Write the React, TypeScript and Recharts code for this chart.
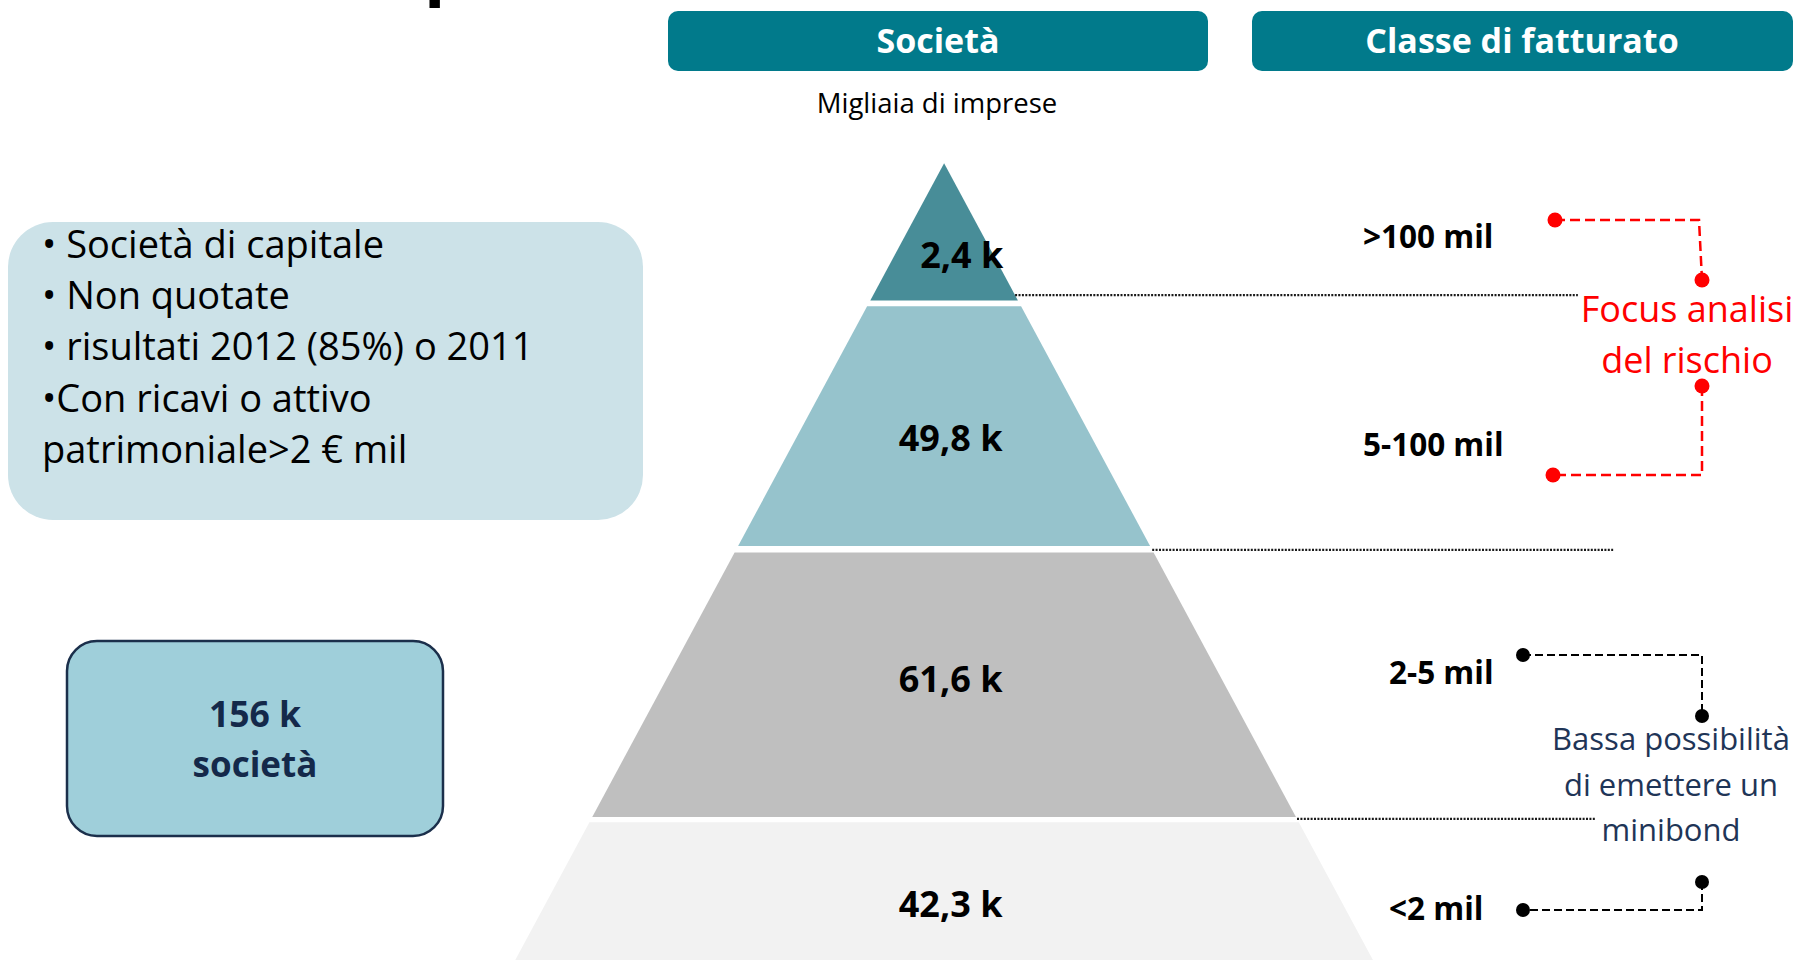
import React from 'react';
import { ComposedChart, Area, Scatter, XAxis, YAxis, ReferenceLine, LabelList } from 'recharts';

// classi di fatturato, dall'alto verso il basso
const classes = ['>100 mil', '5-100 mil', '2-5 mil', '<2 mil'];
// migliaia di imprese per classe
const companies = [2.4, 49.8, 61.6, 42.3];
// livelli della piramide (profondità dal vertice)
const layerTop = [0, 21.9, 59.6, 100.9];
const layerBottom = [21, 58.6, 100.1, 126];
const guideDepth = [20.2, 59.2, 100.4];
const guideEnd = [97, 102.4, 99.8];
const layerColors = ['#488d98', '#96c3cc', '#bfbfbf', '#f2f2f2'];

const SLOPE = 0.538;
const LABEL_AT = [0.67, 0.55, 0.48, 0.5];
const FONT = "'Open Sans', 'Noto Sans', sans-serif";

const fmt = (v: number) => v.toFixed(1).replace('.', ',') + ' k';
const total = Math.round(companies.reduce((a, b) => a + b, 0));

const trapezoid = (top: number, bottom: number) => [
  { x: -SLOPE * bottom, band: [bottom, bottom] },
  { x: -SLOPE * top, band: [bottom, top] },
  { x: SLOPE * top, band: [bottom, top] },
  { x: SLOPE * bottom, band: [bottom, bottom] },
];

const labelData = companies.map((v, i) => ({
  x: i === 0 ? 2.7 : 1,
  y: layerTop[i] + (layerBottom[i] - layerTop[i]) * LABEL_AT[i],
  label: fmt(v),
}));

const noShape = () => <g />;

const renderValue = (props: any) => {
  const { x, y, width, height, value, viewBox } = props;
  const vb = viewBox && viewBox.width !== undefined ? viewBox : { x, y, width, height };
  const cx = vb.x + (vb.width || 0) / 2;
  const cy = vb.y + (vb.height || 0) / 2;
  return (
    <text x={cx} y={cy} dy="0.36em" textAnchor="middle" fill="#000" fontSize={36} fontWeight={700} fontFamily={FONT}>
      {value}
    </text>
  );
};

const classLabelPos = [
  { x: 1363, y: 248 },
  { x: 1363, y: 456 },
  { x: 1389, y: 684 },
  { x: 1389, y: 920 },
];

const bullets = [
  '• Società di capitale',
  '• Non quotate',
  '• risultati 2012 (85%) o 2011',
  '•Con ricavi o attivo',
  'patrimoniale>2 € mil',
];

export default function App() {
  return (
    <div style={{ position: 'absolute', left: 0, top: 0, width: 1800, height: 960, background: '#fff', fontFamily: FONT }}>
      <div style={{ position: 'absolute', left: 0, top: 0 }}>
        <ComposedChart width={1800} height={960} margin={{ top: 0, right: 0, bottom: 0, left: 0 }}>
          <XAxis type="number" dataKey="x" domain={[-144.5, 131]} allowDataOverflow hide />
          <YAxis type="number" dataKey="y" domain={[-25, 122]} allowDataOverflow reversed hide />
          {layerTop.map((t, i) => (
            <Area
              key={classes[i]}
              data={trapezoid(t, layerBottom[i])}
              dataKey="band"
              type="linear"
              fill={layerColors[i]}
              fillOpacity={1}
              stroke="none"
              dot={false}
              activeDot={false}
              isAnimationActive={false}
            />
          ))}
          {guideDepth.map((d, i) => (
            <ReferenceLine
              key={'g' + i}
              segment={[{ x: SLOPE * d, y: d }, { x: guideEnd[i], y: d }]}
              stroke="#1a1a1a"
              strokeWidth={2.2}
              strokeDasharray="2 1.4"
              ifOverflow="visible"
            />
          ))}
          <Scatter data={labelData} dataKey="y" shape={noShape} isAnimationActive={false}>
            <LabelList dataKey="label" content={renderValue} />
          </Scatter>
        </ComposedChart>
      </div>

      <svg width={1800} height={960} style={{ position: 'absolute', left: 0, top: 0, pointerEvents: 'none' }} fontFamily={FONT}>
        <text x={424} y={-9} fontSize={70} fontWeight={700} fill="#000">p</text>

        <rect x={668} y={11} width={540} height={60} rx={10} fill="#017a8b" />
        <text x={938} y={53} textAnchor="middle" fill="#fff" fontSize={34} fontWeight={700}>Società</text>
        <rect x={1252} y={11} width={541} height={60} rx={10} fill="#017a8b" />
        <text x={1522} y={53} textAnchor="middle" fill="#fff" fontSize={34} fontWeight={700}>Classe di fatturato</text>
        <text x={937} y={113} textAnchor="middle" fill="#000" fontSize={27.5}>Migliaia di imprese</text>

        <rect x={8} y={222} width={635} height={298} rx={45} fill="#cce2e8" />
        {bullets.map((b, i) => (
          <text key={b} x={42} y={257.5 + i * 51.4} fontSize={38} fill="#000">{b}</text>
        ))}

        <rect x={67} y={641} width={376} height={195} rx={30} fill="#9fcfda" stroke="#1b2f4b" strokeWidth={2.5} />
        <text x={255} y={727} textAnchor="middle" fontSize={35.5} fontWeight={700} fill="#14294a">{total} k</text>
        <text x={255} y={777} textAnchor="middle" fontSize={35} fontWeight={700} fill="#14294a">società</text>

        {classes.map((c, i) => (
          <text key={c} x={classLabelPos[i].x} y={classLabelPos[i].y} fontSize={31.5} fontWeight={700} fill="#000">{c}</text>
        ))}

        <g stroke="#ff0000" strokeWidth={2.5} strokeDasharray="10 5" fill="none">
          <path d="M1555 220 H1699 L1702 280" />
          <path d="M1702 386 V475 H1553" />
        </g>
        <g fill="#ff0000">
          <circle cx={1555} cy={220} r={7.5} />
          <circle cx={1702} cy={280} r={7.5} />
          <circle cx={1702} cy={386} r={7.5} />
          <circle cx={1553} cy={475} r={7.5} />
        </g>
        <text x={1687} y={322} textAnchor="middle" fontSize={36} fill="#ff0000">Focus analisi</text>
        <text x={1687} y={373} textAnchor="middle" fontSize={36} fill="#ff0000">del rischio</text>

        <g stroke="#000" strokeWidth={2} strokeDasharray="8 4" fill="none">
          <path d="M1523 655 H1702 V716" />
          <path d="M1702 882 V910 H1523" />
        </g>
        <g fill="#000">
          <circle cx={1523} cy={655} r={7} />
          <circle cx={1702} cy={716} r={7} />
          <circle cx={1702} cy={882} r={7} />
          <circle cx={1523} cy={910} r={7} />
        </g>
        <text x={1671} y={750} textAnchor="middle" fontSize={31} fill="#1f3557">Bassa possibilità</text>
        <text x={1671} y={796} textAnchor="middle" fontSize={31} fill="#1f3557">di emettere un</text>
        <text x={1671} y={841} textAnchor="middle" fontSize={31} fill="#1f3557">minibond</text>
      </svg>
    </div>
  );
}
